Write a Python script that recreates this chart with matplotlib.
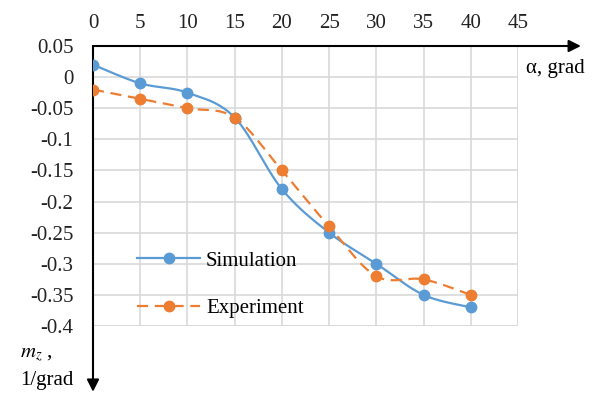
import numpy as np
import matplotlib.pyplot as plt

# data
alpha = [0, 5, 10, 15, 20, 25, 30, 35, 40]
sim = [0.02, -0.01, -0.025, -0.065, -0.18, -0.25, -0.30, -0.35, -0.37]
exp = [-0.02, -0.035, -0.05, -0.065, -0.15, -0.24, -0.32, -0.325, -0.35]

x_ticks = [0, 5, 10, 15, 20, 25, 30, 35, 40, 45]
y_ticks = [0.05, 0, -0.05, -0.1, -0.15, -0.2, -0.25, -0.3, -0.35, -0.4]
y_labels = ["0.05", "0", "-0.05", "-0.1", "-0.15", "-0.2", "-0.25", "-0.3", "-0.35", "-0.4"]

blue = "#5B9BD5"
orange = "#ED7D31"


def smooth(xs, ys, n=30):
    # Excel-like smoothed line: cubic bezier through points
    p = np.column_stack([xs, ys]).astype(float)
    pts = np.vstack([p[0], p, p[-1]])
    out = []
    for i in range(1, len(pts) - 2):
        p0, p1, p2, p3 = pts[i - 1], pts[i], pts[i + 1], pts[i + 2]
        c1 = p1 + (p2 - p0) / 6
        c2 = p2 - (p3 - p1) / 6
        t = np.linspace(0, 1, n)[:, None]
        seg = ((1 - t) ** 3) * p1 + 3 * ((1 - t) ** 2) * t * c1 + 3 * (1 - t) * t ** 2 * c2 + t ** 3 * p2
        out.append(seg)
    out = np.vstack(out)
    return out[:, 0], out[:, 1]


plt.rcParams["font.family"] = ["Liberation Serif", "DejaVu Serif"]
fs = 15

fig = plt.figure(figsize=(5.93, 3.96), dpi=100)
ax = fig.add_axes([93 / 593, 1 - 326 / 396, 425 / 593, 280 / 396])
ax.set_xlim(0, 45)
ax.set_ylim(-0.4, 0.05)

for s in ax.spines.values():
    s.set_visible(False)
ax.set_xticks(x_ticks)
ax.set_yticks(y_ticks)
ax.set_yticklabels(y_labels)
ax.xaxis.tick_top()
ax.tick_params(length=0, labelsize=fs, colors="#222222")
ax.tick_params(axis="x", pad=9)
ax.tick_params(axis="y", pad=14)
ax.grid(True, color="#d9d9d9", linewidth=1.2)
ax.set_axisbelow(True)

# grid border lines at 45 and -0.4
ax.axvline(45, color="#d9d9d9", linewidth=1.2, zorder=0)
ax.axhline(-0.4, color="#d9d9d9", linewidth=1.2, zorder=0)

sx, sy = smooth(alpha, sim)
ex, ey = smooth(alpha, exp)
ax.plot(sx, sy, color=blue, lw=1.6, zorder=3)
ax.plot(ex, ey, color=orange, lw=1.6, dashes=(5, 3), zorder=3)
ax.plot(alpha, sim, "o", color=blue, ms=7.5, zorder=4)
ax.plot(alpha, exp, "o", color=orange, ms=7.5, zorder=4)

# legend proxies
h1, = ax.plot([], [], color=blue, lw=1.6, marker="o", ms=7.5, label="Simulation")
h2, = ax.plot([], [], color=orange, lw=1.6, dashes=(5, 3), marker="o", ms=7.5, label="Experiment")
ax.legend(handles=[h1, h2], loc="upper left", bbox_to_anchor=(0.06, 0.335),
          frameon=False, fontsize=fs, handlelength=3.0, labelspacing=1.35,
          handletextpad=0.3)

# arrow axes
ax.annotate("", xy=(1.148, 1.0), xytext=(0, 1.0), xycoords="axes fraction",
            arrowprops=dict(arrowstyle="-|>", color="black", lw=1.5,
                            mutation_scale=18, shrinkA=0, shrinkB=0),
            annotation_clip=False)
ax.annotate("", xy=(0, -0.235), xytext=(0, 1.0), xycoords="axes fraction",
            arrowprops=dict(arrowstyle="-|>", color="black", lw=1.5,
                            mutation_scale=18, shrinkA=0, shrinkB=0),
            annotation_clip=False)

fig.text(526 / 593, 1 - 68 / 396, "α, grad", fontsize=fs, ha="left", va="center")
fig.text(20 / 593, 1 - 355 / 396, r"$m_z$ ,", fontsize=fs, ha="left", va="center",
         math_fontfamily="stix")
fig.text(74 / 593, 1 - 381 / 396, "1/grad", fontsize=fs, ha="right", va="center")

fig.savefig("out.png", dpi=100)
